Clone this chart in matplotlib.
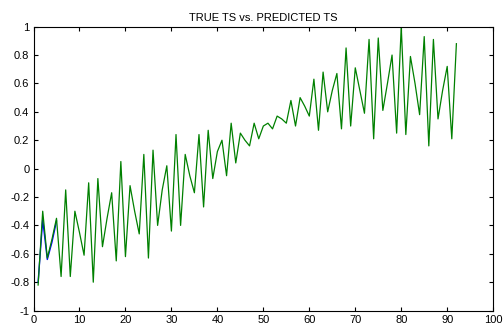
import numpy as np
import matplotlib
matplotlib.use("Agg")
import matplotlib.pyplot as plt

plt.rcParams['font.family'] = ['Liberation Sans', 'DejaVu Sans']

# true series, one value per time step starting at t=1
true_ts = [-0.82, -0.30, -0.63, -0.50, -0.35, -0.76, -0.15, -0.76, -0.30, -0.45,
           -0.61, -0.10, -0.80, -0.07, -0.55, -0.35, -0.17, -0.65, 0.05, -0.62,
           -0.12, -0.30, -0.46, 0.10, -0.63, 0.13, -0.40, -0.15, 0.02, -0.44,
           0.24, -0.40, 0.10, -0.05, -0.17, 0.24, -0.27, 0.27, -0.07, 0.12,
           0.20, -0.05, 0.32, 0.04, 0.25, 0.20, 0.16, 0.32, 0.21, 0.30,
           0.32, 0.28, 0.37, 0.35, 0.32, 0.48, 0.30, 0.50, 0.44, 0.37,
           0.63, 0.27, 0.68, 0.40, 0.55, 0.67, 0.28, 0.85, 0.30, 0.71,
           0.55, 0.39, 0.91, 0.21, 0.92, 0.41, 0.60, 0.80, 0.25, 1.00,
           0.24, 0.79, 0.60, 0.38, 0.93, 0.16, 0.91, 0.35, 0.55, 0.72,
           0.21, 0.88]
t_true = np.arange(1, len(true_ts) + 1)

# predicted series, first few steps only
pred_ts = [-0.80, -0.36, -0.64, -0.52, -0.37]
t_pred = np.arange(1, len(pred_ts) + 1)

x_ticks = list(range(0, 101, 10))
y_ticks = [-1, -0.8, -0.6, -0.4, -0.2, 0, 0.2, 0.4, 0.6, 0.8, 1]
y_labels = ['-1', '-0.8', '-0.6', '-0.4', '-0.2', '0', '0.2', '0.4', '0.6', '0.8', '1']

fig = plt.figure(figsize=(5.04, 3.29), dpi=100)
ax = fig.add_axes([0.0665, 0.056, 0.912, 0.863])

ax.plot(t_pred, pred_ts, color=(0, 0, 1), lw=1.0)
ax.plot(t_true, true_ts, color=(0, 0.5, 0), lw=0.9)

ax.set_xlim(0, 100)
ax.set_ylim(-1, 1)
ax.set_xticks(x_ticks)
ax.set_yticks(y_ticks)
ax.set_yticklabels(y_labels)
ax.tick_params(direction='in', top=True, right=True, length=3, labelsize=8, pad=3)
for s in ax.spines.values():
    s.set_linewidth(0.8)
ax.set_title("TRUE TS vs. PREDICTED TS", fontsize=8, pad=4)

fig.savefig("out.png", dpi=100)
